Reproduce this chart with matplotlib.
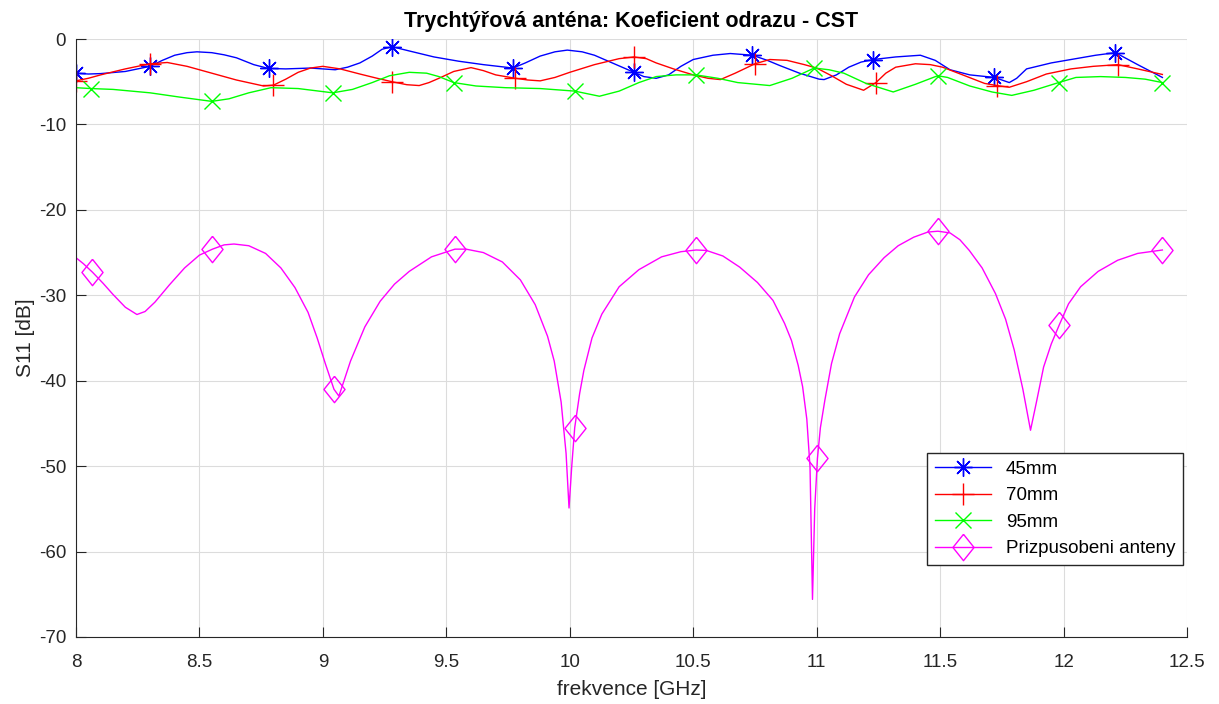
import numpy as np
import matplotlib
matplotlib.use('Agg')
import matplotlib.pyplot as plt

plt.rcParams['font.family'] = ['Liberation Sans', 'DejaVu Sans']
plt.rcParams['axes.unicode_minus'] = False

# 45mm
f_45 = [8.0, 8.05, 8.1, 8.2, 8.3, 8.35, 8.4, 8.45, 8.49, 8.55, 8.6, 8.65, 8.72,
        8.78, 8.85, 8.95, 9.05, 9.1, 9.15, 9.2, 9.24, 9.28, 9.35, 9.45, 9.55,
        9.65, 9.77, 9.82, 9.88, 9.94, 9.99, 10.05, 10.1, 10.18, 10.26, 10.3,
        10.35, 10.4, 10.45, 10.5, 10.58, 10.65, 10.74, 10.8, 10.85, 10.93, 11.01,
        11.03, 11.08, 11.13, 11.18, 11.23, 11.32, 11.42, 11.48, 11.54, 11.62,
        11.72, 11.78, 11.81, 11.85, 11.95, 12.05, 12.13, 12.21, 12.3, 12.4]
s_45 = [-4.0, -4.1, -4.05, -3.8, -3.2, -2.5, -1.9, -1.6, -1.5, -1.6, -1.85, -2.2,
        -3.0, -3.45, -3.5, -3.4, -3.6, -3.3, -2.8, -2.0, -1.2, -0.9, -1.4, -2.1,
        -2.6, -3.0, -3.4, -2.8, -2.0, -1.5, -1.3, -1.5, -1.9, -2.9, -3.9, -4.4,
        -4.6, -4.2, -3.2, -2.4, -1.9, -1.7, -1.9, -2.5, -3.1, -4.0, -4.7, -4.75,
        -4.2, -3.3, -2.7, -2.4, -2.1, -1.9, -2.5, -3.6, -4.2, -4.5, -5.1, -4.6,
        -3.5, -2.8, -2.3, -1.9, -1.6, -3.0, -4.5]
m_45 = [8.0, 8.3, 8.78, 9.28, 9.77, 10.26, 10.74, 11.23, 11.72, 12.21]

# 70mm
f_70 = [8.0, 8.05, 8.1, 8.2, 8.3, 8.37, 8.45, 8.55, 8.65, 8.76, 8.8, 8.85, 8.9,
        8.95, 9.0, 9.07, 9.15, 9.22, 9.28, 9.34, 9.39, 9.43, 9.47, 9.53, 9.6,
        9.65, 9.7, 9.78, 9.83, 9.88, 9.94, 10.0, 10.1, 10.2, 10.26, 10.31, 10.35,
        10.42, 10.5, 10.56, 10.61, 10.67, 10.75, 10.81, 10.88, 10.95, 11.0,
        11.06, 11.12, 11.19, 11.24, 11.28, 11.32, 11.4, 11.46, 11.51, 11.6,
        11.68, 11.73, 11.78, 11.85, 11.93, 12.03, 12.12, 12.22, 12.3, 12.4]
s_70 = [-4.9, -4.6, -4.2, -3.5, -2.9, -2.75, -3.2, -4.0, -4.8, -5.5, -5.4, -4.7,
        -3.9, -3.4, -3.2, -3.5, -4.1, -4.6, -5.0, -5.35, -5.45, -5.1, -4.6, -3.8,
        -3.35, -3.7, -4.2, -4.6, -4.8, -4.9, -4.5, -3.9, -3.0, -2.3, -2.1, -2.3,
        -2.8, -3.5, -4.2, -4.6, -4.75, -4.0, -2.9, -2.4, -2.5, -3.0, -3.4, -4.3,
        -5.3, -6.0, -5.1, -4.0, -3.3, -2.9, -3.0, -3.3, -4.3, -5.2, -5.45, -5.65,
        -5.0, -4.1, -3.5, -3.2, -3.0, -3.5, -4.15]
m_70 = [8.0, 8.3, 8.8, 9.28, 9.78, 10.26, 10.75, 11.24, 11.73, 12.22]

# 95mm
f_95 = [8.0, 8.06, 8.15, 8.3, 8.42, 8.55, 8.62, 8.7, 8.79, 8.9, 9.04, 9.12, 9.2,
        9.27, 9.35, 9.42, 9.47, 9.53, 9.62, 9.74, 9.88, 10.02, 10.12, 10.2,
        10.28, 10.35, 10.43, 10.51, 10.6, 10.68, 10.81, 10.9, 10.99, 11.05,
        11.11, 11.2, 11.31, 11.4, 11.49, 11.53, 11.62, 11.71, 11.79, 11.88,
        11.98, 12.05, 12.15, 12.25, 12.33, 12.4]
s_95 = [-5.7, -5.8, -5.9, -6.3, -6.8, -7.3, -7.0, -6.3, -5.7, -5.8, -6.3, -5.9,
        -5.1, -4.3, -3.9, -4.0, -4.4, -5.1, -5.5, -5.7, -5.8, -6.1, -6.7, -6.1,
        -5.1, -4.4, -4.2, -4.2, -4.6, -5.1, -5.45, -4.6, -3.4, -3.6, -4.0, -5.2,
        -6.2, -5.3, -4.3, -4.5, -5.5, -6.2, -6.6, -6.0, -5.1, -4.5, -4.4, -4.5,
        -4.7, -5.1]
m_95 = [8.06, 8.55, 9.04, 9.53, 10.02, 10.51, 10.99, 11.49, 11.98, 12.4]

# Prizpusobeni anteny
f_pa = [8.0, 8.03, 8.067, 8.11, 8.15, 8.2, 8.247, 8.28, 8.32, 8.378, 8.44, 8.5,
        8.553, 8.6, 8.64, 8.7, 8.768, 8.83, 8.887, 8.94, 8.977, 9.01, 9.045,
        9.065, 9.08, 9.112, 9.17, 9.232, 9.29, 9.35, 9.44, 9.535, 9.58, 9.65,
        9.727, 9.8, 9.86, 9.91, 9.937, 9.965, 9.985, 9.997, 10.008, 10.02,
        10.04, 10.057, 10.09, 10.13, 10.2, 10.28, 10.372, 10.45, 10.512, 10.553,
        10.62, 10.688, 10.76, 10.823, 10.87, 10.898, 10.925, 10.943, 10.96,
        10.973, 10.983, 10.992, 11.003, 11.015, 11.033, 11.06, 11.093, 11.153,
        11.21, 11.273, 11.33, 11.393, 11.45, 11.491, 11.54, 11.58, 11.618,
        11.67, 11.724, 11.765, 11.8, 11.835, 11.866, 11.89, 11.919, 11.95,
        11.982, 12.02, 12.069, 12.14, 12.219, 12.3, 12.4]
s_pa = [-25.6, -26.3, -27.3, -28.6, -29.9, -31.4, -32.25, -31.9, -30.8, -28.8,
        -26.8, -25.3, -24.6, -24.1, -24.0, -24.2, -25.1, -26.8, -29.1, -32.0,
        -35.0, -38.0, -41.0, -41.8, -40.5, -37.7, -33.7, -30.7, -28.7, -27.2,
        -25.5, -24.6, -24.6, -25.0, -26.1, -28.2, -31.1, -34.8, -37.7, -42.5,
        -48.5, -54.9, -50.0, -45.5, -41.5, -38.8, -35.0, -32.2, -29.0, -27.0,
        -25.5, -24.9, -24.7, -24.75, -25.4, -26.7, -28.5, -30.6, -33.3, -35.3,
        -38.2, -40.7, -44.5, -50.1, -65.6, -55.0, -49.1, -45.5, -42.3, -38.0,
        -34.5, -30.2, -27.6, -25.6, -24.2, -23.2, -22.6, -22.5, -22.7, -23.5,
        -24.75, -26.8, -29.8, -32.8, -36.4, -41.0, -45.8, -42.5, -38.4, -35.7,
        -33.5, -31.0, -29.0, -27.2, -25.9, -25.1, -24.7]
m_pa = [8.067, 8.553, 9.045, 9.535, 10.02, 10.512, 11.003, 11.491, 11.982, 12.4]

labels = ['45mm', '70mm', '95mm', 'Prizpusobeni anteny']
x_ticks = [8, 8.5, 9, 9.5, 10, 10.5, 11, 11.5, 12, 12.5]
y_ticks = [0, -10, -20, -30, -40, -50, -60, -70]


def mark_idx(f, marks):
    f = np.asarray(f)
    return [int(np.argmin(np.abs(f - m))) for m in marks]


diamond = [(0, 1), (0.8, 0), (0, -1), (-0.8, 0), (0, 1)]

fig = plt.figure(figsize=(12.19, 7.04), dpi=100)
ax = fig.add_axes([0.0623, 0.0952, 0.9115, 0.8494])

series = [
    (f_45, s_45, m_45, (0, 0, 1), (8, 2, 0), 13),
    (f_70, s_70, m_70, (1, 0, 0), '+', 16),
    (f_95, s_95, m_95, (0, 1, 0), 'x', 12),
    (f_pa, s_pa, m_pa, (1, 0, 1), diamond, 19),
]
for (f, s, m, c, mk, ms), lab in zip(series, labels):
    ax.plot(f, s, color=c, lw=1.0, marker=mk, markersize=ms, markevery=mark_idx(f, m),
            markerfacecolor='none', markeredgecolor=c, markeredgewidth=1.0, label=lab)

ax.set_xlim(8, 12.5)
ax.set_ylim(-70, 0)
ax.set_xticks(x_ticks)
ax.set_xticklabels(['%g' % v for v in x_ticks])
ax.set_yticks(y_ticks)
ax.grid(True, color='#dcdcdc', lw=0.8)
ax.set_axisbelow(True)
for sp in ['top', 'right']:
    ax.spines[sp].set_visible(False)
for sp in ['left', 'bottom']:
    ax.spines[sp].set_color('#262626')
ax.tick_params(direction='in', length=7, labelsize=13.5, colors='#262626')
ax.tick_params(axis='x', pad=12)
ax.tick_params(axis='y', pad=7)

ax.set_xlabel('frekvence [GHz]', fontsize=15, color='#262626', labelpad=7)
ax.set_ylabel('S11 [dB]', fontsize=15, color='#262626', labelpad=3)
ax.set_title('Trychtýřová anténa: Koeficient odrazu - CST', fontsize=15.5,
             fontweight='bold', pad=9)

leg = ax.legend(loc='lower right', bbox_to_anchor=(0.9964, 0.1204), borderaxespad=0,
                fontsize=13.5, numpoints=1, handlelength=3.0, labelspacing=0.5,
                fancybox=False, framealpha=1, edgecolor='#262626')
leg.get_frame().set_linewidth(1.0)

fig.savefig('out.png', dpi=100)
